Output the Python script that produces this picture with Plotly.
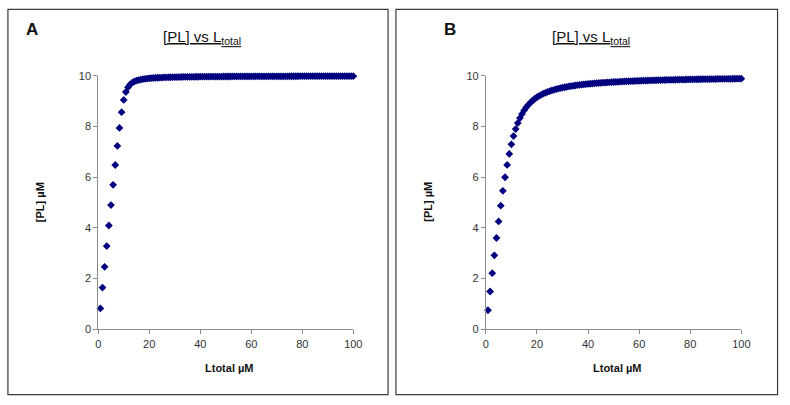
import plotly.graph_objects as go

# Ltotal (µM) sampling of both panels
ltotal = [0.833, 1.667, 2.5, 3.333, 4.167, 5.0, 5.833, 6.667, 7.5, 8.333,
          9.167, 10.0, 10.833, 11.667, 12.5, 13.333, 14.167, 15.0, 15.833, 16.667,
          17.5, 18.333, 19.167, 20.0, 20.833, 21.667, 22.5, 23.333, 24.167, 25.0,
          25.833, 26.667, 27.5, 28.333, 29.167, 30.0, 30.833, 31.667, 32.5, 33.333,
          34.167, 35.0, 35.833, 36.667, 37.5, 38.333, 39.167, 40.0, 40.833, 41.667,
          42.5, 43.333, 44.167, 45.0, 45.833, 46.667, 47.5, 48.333, 49.167, 50.0,
          50.833, 51.667, 52.5, 53.333, 54.167, 55.0, 55.833, 56.667, 57.5, 58.333,
          59.167, 60.0, 60.833, 61.667, 62.5, 63.333, 64.167, 65.0, 65.833, 66.667,
          67.5, 68.333, 69.167, 70.0, 70.833, 71.667, 72.5, 73.333, 74.167, 75.0,
          75.833, 76.667, 77.5, 78.333, 79.167, 80.0, 80.833, 81.667, 82.5, 83.333,
          84.167, 85.0, 85.833, 86.667, 87.5, 88.333, 89.167, 90.0, 90.833, 91.667,
          92.5, 93.333, 94.167, 95.0, 95.833, 96.667, 97.5, 98.333, 99.167, 100.0]

# [PL] (µM), panel A
pl_a = [0.824, 1.647, 2.467, 3.284, 4.097, 4.904, 5.70, 6.483, 7.238, 7.946,
        8.568, 9.049, 9.363, 9.549, 9.660, 9.730, 9.777, 9.811, 9.836, 9.855,
        9.871, 9.883, 9.893, 9.902, 9.909, 9.916, 9.921, 9.926, 9.930, 9.934,
        9.937, 9.940, 9.943, 9.946, 9.948, 9.950, 9.952, 9.954, 9.956, 9.957,
        9.959, 9.960, 9.961, 9.963, 9.964, 9.965, 9.966, 9.967, 9.968, 9.969,
        9.969, 9.970, 9.971, 9.972, 9.972, 9.973, 9.973, 9.974, 9.975, 9.975,
        9.976, 9.976, 9.977, 9.977, 9.977, 9.978, 9.978, 9.979, 9.979, 9.979,
        9.980, 9.980, 9.980, 9.981, 9.981, 9.981, 9.982, 9.982, 9.982, 9.982,
        9.983, 9.983, 9.983, 9.983, 9.984, 9.984, 9.984, 9.984, 9.984, 9.985,
        9.985, 9.985, 9.985, 9.985, 9.986, 9.986, 9.986, 9.986, 9.986, 9.986,
        9.987, 9.987, 9.987, 9.987, 9.987, 9.987, 9.987, 9.988, 9.988, 9.988,
        9.988, 9.988, 9.988, 9.988, 9.988, 9.988, 9.989, 9.989, 9.989, 9.989]

# [PL] (µM), panel B
pl_b = [0.752, 1.492, 2.215, 2.921, 3.603, 4.258, 4.880, 5.463, 6.000, 6.487,
        6.920, 7.298, 7.624, 7.902, 8.136, 8.333, 8.500, 8.641, 8.761, 8.864,
        8.953, 9.029, 9.097, 9.156, 9.208, 9.254, 9.296, 9.333, 9.367, 9.398,
        9.426, 9.451, 9.474, 9.496, 9.516, 9.534, 9.551, 9.567, 9.582, 9.596,
        9.609, 9.621, 9.632, 9.643, 9.653, 9.663, 9.672, 9.681, 9.689, 9.697,
        9.704, 9.711, 9.718, 9.724, 9.730, 9.736, 9.742, 9.747, 9.752, 9.758,
        9.762, 9.767, 9.771, 9.775, 9.780, 9.784, 9.787, 9.791, 9.795, 9.798,
        9.801, 9.805, 9.808, 9.811, 9.814, 9.817, 9.819, 9.822, 9.825, 9.827,
        9.830, 9.832, 9.834, 9.837, 9.839, 9.841, 9.843, 9.845, 9.847, 9.849,
        9.851, 9.853, 9.854, 9.856, 9.858, 9.860, 9.861, 9.863, 9.864, 9.866,
        9.867, 9.869, 9.870, 9.871, 9.873, 9.874, 9.875, 9.877, 9.878, 9.879,
        9.880, 9.882, 9.883, 9.884, 9.885, 9.886, 9.887, 9.888, 9.889, 9.890]

x_ticks = [0, 20, 40, 60, 80, 100]
y_ticks = [0, 2, 4, 6, 8, 10]
panel_labels = ["A", "B"]
title_text = "<u>[PL] vs L<sub>total</sub></u>"
x_title = "Ltotal µM"
y_title = "[PL] µM"

W, H = 790, 405
FONT = "Arial, Liberation Sans, sans-serif"
NAVY = "#00007f"
AXIS = "#8c8c8c"

fig = go.Figure()

fig.add_trace(go.Scatter(x=ltotal, y=pl_a, mode="markers", xaxis="x", yaxis="y",
                         marker=dict(symbol="diamond", size=6, color=NAVY),
                         cliponaxis=False, showlegend=False))
fig.add_trace(go.Scatter(x=ltotal, y=pl_b, mode="markers", xaxis="x2", yaxis="y2",
                         marker=dict(symbol="diamond", size=6, color=NAVY),
                         cliponaxis=False, showlegend=False))

def px(v):
    return v / W

def py(v):
    return 1 - v / H

tickfont = dict(family=FONT, size=11, color="#333333")
ax_common = dict(range=[0, 100], tickvals=x_ticks, showgrid=False, zeroline=False,
                 showline=True, linecolor=AXIS, linewidth=1, ticks="outside",
                 ticklen=4, tickcolor=AXIS, tickfont=tickfont)
ay_common = dict(range=[0, 10], tickvals=y_ticks, showgrid=False, zeroline=False,
                 showline=True, linecolor=AXIS, linewidth=1, ticks="outside",
                 ticklen=4, tickcolor=AXIS, tickfont=tickfont)

# panel geometry (pixels)
panels = [
    dict(box=(5, 3.5, 391, 400.5), plot=(96.7, 355.7), label_x=29),
    dict(box=(399, 3.5, 786.5, 400.5), plot=(490.3, 749.7), label_x=454),
]
plot_top, plot_bottom = 72, 333.2

layout = dict(
    width=W, height=H, margin=dict(l=0, r=0, t=0, b=0),
    paper_bgcolor="white", plot_bgcolor="white",
    xaxis=dict(domain=[px(panels[0]["plot"][0]), px(panels[0]["plot"][1])], anchor="y", **ax_common),
    yaxis=dict(domain=[py(plot_bottom), py(plot_top)], anchor="x", **ay_common),
    xaxis2=dict(domain=[px(panels[1]["plot"][0]), px(panels[1]["plot"][1])], anchor="y2", **ax_common),
    yaxis2=dict(domain=[py(plot_bottom), py(plot_top)], anchor="x2", **ay_common),
)
fig.update_layout(**layout)

shapes = []
annotations = []
for i, p in enumerate(panels):
    x0, y0, x1, y1 = p["box"]
    shapes.append(dict(type="rect", xref="paper", yref="paper",
                       x0=px(x0), x1=px(x1), y0=py(y1), y1=py(y0),
                       line=dict(color="#3a3a3a", width=1.2)))
    cx = (x0 + x1) / 2
    pcx = (p["plot"][0] + p["plot"][1]) / 2
    common = dict(xref="paper", yref="paper", showarrow=False,
                  xanchor="center", yanchor="middle")
    annotations.append(dict(text="<b>" + panel_labels[i] + "</b>", x=px(p["label_x"]), y=py(24),
                            font=dict(family=FONT, size=17, color="#111111"), **common))
    annotations.append(dict(text=title_text, x=px(cx + 4), y=py(32),
                            font=dict(family=FONT, size=15, color="#111111"), **common))
    annotations.append(dict(text="<b>" + x_title + "</b>", x=px(pcx + 4), y=py(373),
                            font=dict(family=FONT, size=11, color="#111111"), **common))
    annotations.append(dict(text="<b>" + y_title + "</b>", x=px(p["plot"][0] - 59), y=py(202),
                            textangle=-90,
                            font=dict(family=FONT, size=11, color="#111111"), **common))

fig.update_layout(shapes=shapes, annotations=annotations)
fig.write_html("out.html", config={"displayModeBar": False},
               post_script="document.body.style.margin='0';document.body.style.overflow='hidden';")
